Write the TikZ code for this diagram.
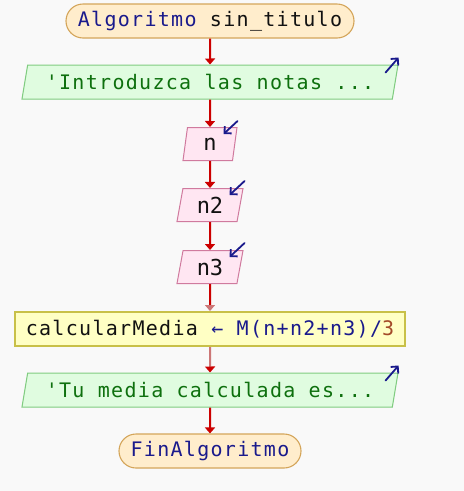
\documentclass[tikz,border=0pt]{standalone}
\usepackage{fontspec}
\newfontfamily\codefont[LetterSpace=6.5]{DejaVu Sans Mono}
\newfontfamily\varfont{DejaVu Sans Mono}
\usetikzlibrary{shapes.geometric,arrows.meta}
\definecolor{bgcol}{HTML}{F9F9F9}
\definecolor{termfill}{HTML}{FFEDCC}
\definecolor{termline}{HTML}{D4A55A}
\definecolor{outfill}{HTML}{E0FCE0}
\definecolor{outline}{HTML}{80CC80}
\definecolor{infill}{HTML}{FFE6F2}
\definecolor{inline}{HTML}{D07A9E}
\definecolor{procfill}{HTML}{FFFFC4}
\definecolor{procline}{HTML}{C8C048}
\definecolor{flowred}{HTML}{CC0000}
\definecolor{flowmuted}{HTML}{CC7777}
\definecolor{kwblue}{HTML}{1A1A8C}
\definecolor{txtgreen}{HTML}{0E700E}
\definecolor{txtblack}{HTML}{111111}
\definecolor{numbrown}{HTML}{A34A28}
\definecolor{iconblue}{HTML}{1A1A8C}
\begin{document}
\begin{tikzpicture}[x=1pt,y=-1pt,
  term/.style={draw=termline, fill=termfill, line width=1.1pt, rounded corners=17pt,
    minimum height=34pt, inner sep=0pt, font=\codefont\fontsize{20}{24}\selectfont},
  outbox/.style={trapezium, trapezium left angle=70, trapezium right angle=110,
    trapezium stretches body, draw=outline, fill=outfill, line width=1pt,
    minimum height=34pt, inner sep=0pt, text=txtgreen,
    font=\codefont\fontsize{20}{24}\selectfont},
  inbox/.style={trapezium, trapezium left angle=70, trapezium right angle=110,
    trapezium stretches body, draw=inline, fill=infill, line width=1pt,
    minimum height=33pt, inner sep=0pt, text=txtblack,
    font=\varfont\fontsize{22}{26}\selectfont},
  procbox/.style={draw=procline, fill=procfill, line width=2pt,
    minimum width=390pt, minimum height=34pt, inner sep=0pt, text=txtblack,
    font=\codefont\fontsize{20}{24}\selectfont},
  flow/.style={draw=flowred, line width=2pt, -{Triangle[width=10pt,length=6pt]}},
  icon/.style={draw=iconblue, line width=1.8pt, line cap=round,
    -{Straight Barb[length=5pt,width=10pt,line width=1.8pt]}}
]
\fill[bgcol] (0,0) rectangle (464,491);
\useasboundingbox (0,0) rectangle (464,491);

% flowchart boxes
\node[term, minimum width=288pt] (start) at (210,21)
  {\textcolor{kwblue}{Algoritmo} \textcolor{txtblack}{sin\_titulo}};
\node[outbox, minimum width=376pt] (msg1) at (210,82) {'Introduzca las notas ...};
\node[inbox, minimum width=54pt] (vn) at (210,144) {n};
\node[inbox, minimum width=66pt] (vn2) at (210,205) {n2};
\node[inbox, minimum width=66pt] (vn3) at (210,267) {n3};
\node[procbox] (calc) at (210,329)
  {calcularMedia \textcolor{kwblue}{← M(n+n2+n3)/}\textcolor{numbrown}{3}};
\node[outbox, minimum width=376pt] (msg2) at (210,390) {'Tu media calculada es...};
\node[term, minimum width=182pt] (stop) at (210,451) {\textcolor{kwblue}{FinAlgoritmo}};

% flow connectors
\draw[flow] (start.south) -- (msg1.north);
\draw[flow] (msg1.south) -- (vn.north);
\draw[flow] (vn.south) -- (vn2.north);
\draw[flow] (vn2.south) -- (vn3.north);
\draw[draw=flowred, line width=2pt, -{Triangle[width=10pt,length=6pt,color=flowmuted]}]
  (vn3.south) -- (calc.north);
\draw[draw=flowmuted, line width=2pt, -{Triangle[width=10pt,length=6pt,color=flowred]}]
  (calc.south) -- (msg2.north);
\draw[flow] (msg2.south) -- (stop.north);

% input / output markers
\draw[icon] ([shift={(-13,8)}]msg1.top right corner) -- ([shift={(0,-7)}]msg1.top right corner);
\draw[icon] ([shift={(-13,8)}]msg2.top right corner) -- ([shift={(0,-7)}]msg2.top right corner);
\draw[icon] ([shift={(0,-6)}]vn.top right corner) -- ([shift={(-14,7)}]vn.top right corner);
\draw[icon] ([shift={(1,-7)}]vn2.top right corner) -- ([shift={(-14,7)}]vn2.top right corner);
\draw[icon] ([shift={(1,-7)}]vn3.top right corner) -- ([shift={(-14,7)}]vn3.top right corner);
\end{tikzpicture}
\end{document}
